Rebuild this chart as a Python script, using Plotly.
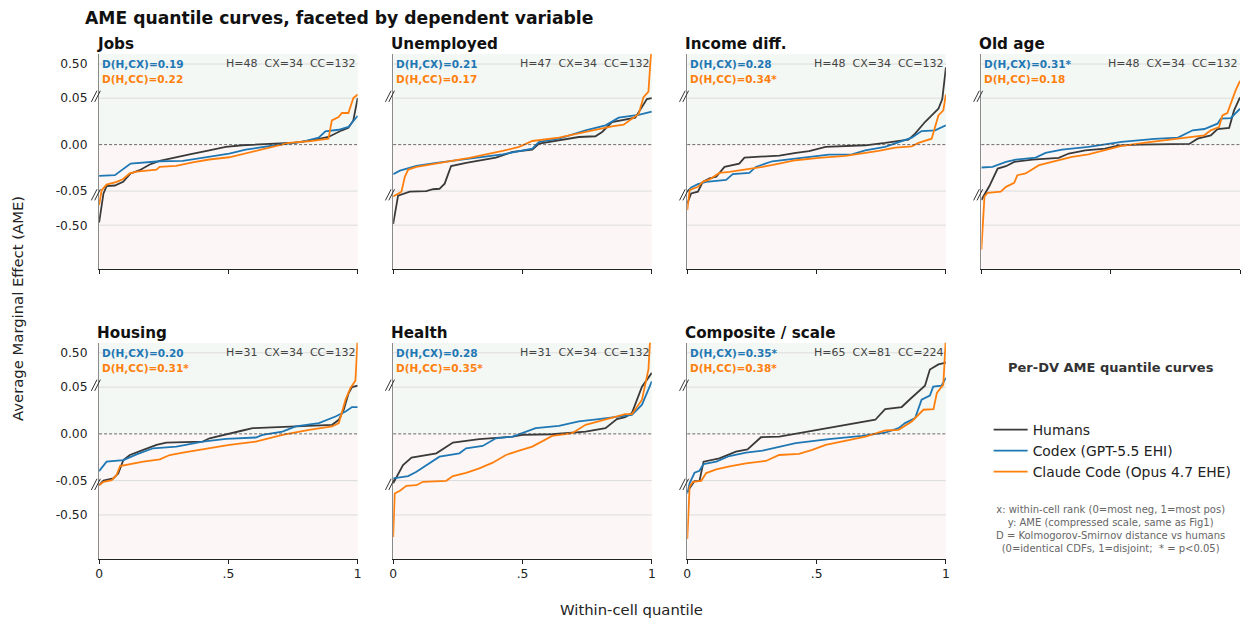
import math
import plotly.graph_objects as go

# ---------------- data (AME values) ----------------
PANELS = ["Jobs", "Unemployed", "Income diff.", "Old age", "Housing", "Health", "Composite / scale"]
D_CX = ["0.19", "0.21", "0.28", "0.31*", "0.20", "0.28", "0.35*"]
D_CC = ["0.22", "0.17", "0.34*", "0.18", "0.31*", "0.35*", "0.38*"]
N_H = [48, 47, 48, 48, 31, 31, 65]
N_CX = [34, 34, 34, 34, 34, 34, 81]
N_CC = [132, 132, 132, 132, 132, 132, 224]

SERIES = ["Humans", "Codex (GPT-5.5 EHI)", "Claude Code (Opus 4.7 EHE)"]
COLORS = ["#3a3a3a", "#1f77b4", "#ff7f0e"]

Y_TICKS = [-0.5, -0.05, 0.0, 0.05, 0.5]
Y_TICKTEXT = ["-0.50", "-0.05", "0.00", "0.05", "0.50"]
X_TICKS = [0, 0.5, 1]
X_TICKTEXT = ["0", ".5", "1"]

# Jobs
jobs_h_q = [0, 0.017, 0.029, 0.061, 0.093, 0.122, 0.157, 0.196, 0.234, 0.298, 0.350, 0.426, 0.490, 0.554, 0.657, 0.759, 0.836, 0.887, 0.939, 0.964, 0.983, 1.0]
jobs_h_v = [-0.42, -0.0585, -0.0446, -0.044, -0.040, -0.031, -0.0275, -0.0214, -0.0175, -0.0132, -0.0104, -0.0061, -0.0025, -0.0007, 0.0004, 0.0021, 0.0054, 0.0082, 0.0154, 0.0182, 0.026, 0.051]
jobs_cx_q = [0, 0.061, 0.122, 0.170, 0.234, 0.324, 0.401, 0.503, 0.567, 0.631, 0.708, 0.785, 0.849, 0.875, 0.926, 0.964, 1.0]
jobs_cx_v = [-0.0336, -0.0329, -0.0204, -0.0193, -0.0179, -0.0175, -0.0143, -0.0096, -0.0054, -0.0025, 0.0004, 0.0029, 0.0075, 0.0143, 0.016, 0.019, 0.031]
jobs_cc_q = [0, 0.010, 0.029, 0.068, 0.093, 0.119, 0.145, 0.222, 0.234, 0.298, 0.362, 0.426, 0.503, 0.580, 0.657, 0.734, 0.810, 0.887, 0.900, 0.926, 0.939, 0.964, 0.983, 1.0]
jobs_cc_v = [-0.128, -0.049, -0.043, -0.040, -0.037, -0.031, -0.029, -0.027, -0.024, -0.0229, -0.019, -0.016, -0.0136, -0.0082, -0.0036, 0.0018, 0.0036, 0.0064, 0.026, 0.0296, 0.034, 0.034, 0.050, 0.064]

# Unemployed
unemp_h_q = [0, 0.019, 0.064, 0.128, 0.154, 0.179, 0.199, 0.224, 0.282, 0.333, 0.397, 0.462, 0.538, 0.564, 0.641, 0.718, 0.782, 0.808, 0.846, 0.897, 0.936, 0.981, 1.0]
unemp_h_v = [-0.46, -0.068, -0.052, -0.050, -0.048, -0.0475, -0.042, -0.023, -0.0196, -0.0168, -0.0139, -0.0079, -0.0054, 0.001, 0.0046, 0.0082, 0.009, 0.0136, 0.0243, 0.027, 0.029, 0.049, 0.050]
unemp_cx_q = [0, 0.026, 0.090, 0.167, 0.295, 0.423, 0.538, 0.564, 0.641, 0.744, 0.821, 0.872, 0.949, 1.0]
unemp_cx_v = [-0.0318, -0.028, -0.023, -0.0196, -0.015, -0.0104, -0.0043, 0.0029, 0.0064, 0.0154, 0.0207, 0.029, 0.032, 0.0354]
unemp_cc_q = [0, 0.032, 0.045, 0.058, 0.090, 0.167, 0.295, 0.423, 0.487, 0.538, 0.641, 0.744, 0.846, 0.891, 0.949, 0.968, 0.987, 0.994, 1.0]
unemp_cc_v = [-0.072, -0.052, -0.0346, -0.0268, -0.024, -0.0204, -0.0143, -0.0068, -0.0025, 0.0039, 0.0075, 0.0136, 0.0196, 0.0214, 0.033, 0.0536, 0.078, 0.5, 1.5]

# Income diff.
income_h_q = [0, 0.015, 0.041, 0.060, 0.086, 0.112, 0.144, 0.176, 0.201, 0.221, 0.292, 0.356, 0.420, 0.471, 0.535, 0.612, 0.688, 0.765, 0.855, 0.881, 0.919, 0.945, 0.971, 0.986, 1.0]
income_h_v = [-0.115, -0.0585, -0.052, -0.040, -0.0364, -0.0346, -0.024, -0.0221, -0.0204, -0.0139, -0.0132, -0.0118, -0.0089, -0.0071, -0.0025, -0.0014, -0.0007, 0.0018, 0.0054, 0.0118, 0.0243, 0.0314, 0.0386, 0.049, 0.40]
income_cx_q = [0, 0.015, 0.041, 0.073, 0.150, 0.176, 0.240, 0.265, 0.329, 0.419, 0.547, 0.637, 0.688, 0.765, 0.842, 0.868, 0.906, 0.958, 1.0]
income_cx_v = [-0.052, -0.046, -0.0425, -0.040, -0.038, -0.0318, -0.0304, -0.024, -0.0179, -0.015, -0.0107, -0.0104, -0.0061, -0.0025, 0.0046, 0.0075, 0.0146, 0.0154, 0.0207]
income_cc_q = [0, 0.009, 0.041, 0.060, 0.086, 0.124, 0.163, 0.227, 0.291, 0.355, 0.419, 0.509, 0.612, 0.669, 0.740, 0.804, 0.868, 0.894, 0.945, 0.958, 0.971, 0.990, 1.0]
income_cc_v = [-0.18, -0.049, -0.0454, -0.040, -0.0375, -0.0304, -0.0293, -0.0268, -0.024, -0.0204, -0.0168, -0.0143, -0.0121, -0.0096, -0.0068, -0.0032, -0.0018, 0.0018, 0.0064, 0.0189, 0.0314, 0.0368, 0.064]

# Old age
old_h_q = [0, 0.031, 0.063, 0.095, 0.127, 0.197, 0.299, 0.338, 0.402, 0.478, 0.529, 0.606, 0.804, 0.836, 0.887, 0.913, 0.958, 0.977, 1.0]
old_h_v = [-0.091, -0.0446, -0.0257, -0.0232, -0.0186, -0.0161, -0.0143, -0.0096, -0.0061, -0.0043, -0.0011, 0.0, 0.0007, 0.0064, 0.010, 0.0168, 0.0179, 0.0368, 0.053]
old_cx_q = [0, 0.043, 0.095, 0.133, 0.210, 0.248, 0.312, 0.414, 0.542, 0.670, 0.760, 0.817, 0.862, 0.913, 0.926, 0.964, 1.0]
old_cx_v = [-0.0246, -0.0239, -0.0186, -0.0161, -0.0139, -0.0089, -0.0054, -0.0025, 0.0029, 0.0061, 0.0075, 0.0154, 0.0168, 0.0225, 0.0279, 0.0286, 0.0386]
old_cc_q = [0, 0.012, 0.024, 0.075, 0.095, 0.127, 0.139, 0.171, 0.223, 0.299, 0.350, 0.414, 0.478, 0.542, 0.657, 0.760, 0.862, 0.887, 0.919, 0.932, 0.951, 0.964, 0.983, 1.0]
old_cc_v = [-2.6, -0.072, -0.056, -0.052, -0.0454, -0.0411, -0.0329, -0.031, -0.0221, -0.0168, -0.0132, -0.0104, -0.0061, -0.0014, 0.0029, 0.0064, 0.010, 0.0154, 0.019, 0.0314, 0.034, 0.0439, 0.084, 0.16]

# Housing
housing_h_q = [0, 0.017, 0.055, 0.074, 0.094, 0.119, 0.171, 0.222, 0.260, 0.401, 0.427, 0.478, 0.555, 0.594, 0.683, 0.812, 0.901, 0.927, 0.946, 0.965, 0.978, 1.0]
housing_h_v = [-0.068, -0.050, -0.0477, -0.0423, -0.028, -0.0226, -0.0172, -0.0118, -0.0093, -0.0082, -0.0047, -0.0011, 0.0036, 0.0061, 0.0072, 0.0086, 0.0097, 0.015, 0.0258, 0.0437, 0.0503, 0.055]
housing_cx_q = [0, 0.029, 0.094, 0.145, 0.209, 0.299, 0.401, 0.491, 0.606, 0.632, 0.709, 0.760, 0.850, 0.914, 0.953, 0.978, 1.0]
housing_cx_v = [-0.0398, -0.0297, -0.028, -0.0219, -0.0154, -0.0136, -0.0082, -0.0054, -0.0039, -0.0011, 0.0025, 0.0079, 0.0115, 0.0186, 0.024, 0.0287, 0.0287]
housing_cc_q = [0, 0.017, 0.049, 0.068, 0.081, 0.119, 0.171, 0.235, 0.273, 0.324, 0.427, 0.504, 0.606, 0.709, 0.812, 0.901, 0.927, 0.940, 0.953, 0.972, 0.991, 0.997, 1.0]
housing_cc_v = [-0.068, -0.054, -0.0495, -0.0437, -0.0344, -0.0323, -0.0297, -0.0272, -0.0226, -0.0201, -0.0154, -0.0118, -0.0082, -0.0011, 0.0043, 0.0079, 0.0115, 0.024, 0.0366, 0.0491, 0.077, 0.5, 1.5]

# Health
health_h_q = [0, 0.038, 0.071, 0.167, 0.231, 0.333, 0.462, 0.500, 0.615, 0.744, 0.821, 0.865, 0.897, 0.923, 0.962, 1.0]
health_h_v = [-0.06, -0.0333, -0.0254, -0.0208, -0.0093, -0.0057, -0.0029, -0.0011, -0.0004, 0.0025, 0.0061, 0.0158, 0.0179, 0.0222, 0.0514, 0.13]
health_cx_q = [0, 0.058, 0.090, 0.128, 0.179, 0.256, 0.282, 0.346, 0.397, 0.462, 0.513, 0.551, 0.641, 0.718, 0.795, 0.897, 0.923, 0.962, 1.0]
health_cx_v = [-0.0477, -0.0452, -0.0405, -0.0333, -0.0244, -0.0208, -0.0154, -0.0129, -0.0047, -0.0029, 0.0025, 0.0061, 0.0086, 0.0133, 0.0158, 0.0194, 0.0204, 0.0312, 0.074]
health_cc_q = [0, 0.006, 0.026, 0.051, 0.090, 0.115, 0.205, 0.231, 0.282, 0.333, 0.385, 0.436, 0.487, 0.538, 0.615, 0.692, 0.744, 0.846, 0.897, 0.923, 0.962, 0.987, 0.994]
health_cc_v = [-2.2, -0.119, -0.099, -0.071, -0.068, -0.054, -0.0506, -0.0452, -0.0416, -0.0369, -0.0308, -0.0226, -0.0179, -0.0136, -0.0022, 0.0007, 0.0097, 0.0168, 0.0211, 0.0211, 0.0366, 0.163, 1.5]

# Composite / scale
comp_h_q = [0, 0.028, 0.047, 0.063, 0.124, 0.188, 0.233, 0.259, 0.285, 0.356, 0.433, 0.522, 0.574, 0.663, 0.727, 0.765, 0.829, 0.862, 0.894, 0.919, 0.938, 0.971, 1.0]
comp_h_v = [-0.106, -0.0516, -0.0516, -0.0297, -0.0262, -0.019, -0.0165, -0.010, -0.0036, -0.0029, 0.0007, 0.005, 0.0079, 0.0115, 0.0151, 0.0265, 0.0287, 0.0373, 0.0455, 0.055, 0.163, 0.23, 0.26]
comp_cx_q = [0, 0.009, 0.028, 0.047, 0.063, 0.112, 0.163, 0.227, 0.291, 0.355, 0.419, 0.547, 0.676, 0.765, 0.817, 0.842, 0.881, 0.906, 0.938, 0.951, 0.983, 1.0]
comp_cx_v = [-0.119, -0.06, -0.0416, -0.0394, -0.0323, -0.0297, -0.0237, -0.0201, -0.0179, -0.0136, -0.010, -0.0057, -0.0022, 0.0014, 0.0061, 0.0115, 0.0168, 0.0366, 0.0409, 0.0514, 0.055, 0.093]
comp_cc_q = [0, 0.009, 0.022, 0.054, 0.073, 0.112, 0.163, 0.227, 0.304, 0.355, 0.432, 0.483, 0.535, 0.612, 0.689, 0.766, 0.817, 0.868, 0.913, 0.952, 0.965, 0.990, 0.996, 1.0]
comp_cc_v = [-2.5, -0.076, -0.054, -0.0506, -0.0419, -0.038, -0.0348, -0.0315, -0.029, -0.0226, -0.0215, -0.0172, -0.0118, -0.0072, -0.0029, 0.0036, 0.0043, 0.0133, 0.0258, 0.0265, 0.0437, 0.059, 0.33, 1.5]

CURVES = [
    [(jobs_h_q, jobs_h_v), (jobs_cx_q, jobs_cx_v), (jobs_cc_q, jobs_cc_v)],
    [(unemp_h_q, unemp_h_v), (unemp_cx_q, unemp_cx_v), (unemp_cc_q, unemp_cc_v)],
    [(income_h_q, income_h_v), (income_cx_q, income_cx_v), (income_cc_q, income_cc_v)],
    [(old_h_q, old_h_v), (old_cx_q, old_cx_v), (old_cc_q, old_cc_v)],
    [(housing_h_q, housing_h_v), (housing_cx_q, housing_cx_v), (housing_cc_q, housing_cc_v)],
    [(health_h_q, health_h_v), (health_cx_q, health_cx_v), (health_cc_q, health_cc_v)],
    [(comp_h_q, comp_h_v), (comp_cx_q, comp_cx_v), (comp_cc_q, comp_cc_v)],
]

# ---------------- compressed y scale ----------------
LIN = 0.05      # linear within +-0.05
K = 0.0367      # compressed (log10) beyond


def compress(v):
    a = abs(v)
    if a <= LIN:
        return v
    return math.copysign(LIN + K * math.log10(a / LIN), v)


Y_RANGE = [-0.1335, 0.0975]

# ---------------- layout geometry ----------------
W, H = 1245, 618
COL_L = [95.7, 391.7, 687.7, 983.7]
PW = 260.3
ROWS = [(54.0, 268.7), (342.7, 558.7)]
FONT = "DejaVu Sans"

fig = go.Figure()
layout = dict(
    width=W, height=H,
    margin=dict(l=0, r=0, t=0, b=0),
    paper_bgcolor="white", plot_bgcolor="white",
    font=dict(family=FONT, color="#222"),
    showlegend=True,
)
shapes = []
annotations = []

for i, name in enumerate(PANELS):
    n = i + 1
    r, c = divmod(i, 4)
    xk = "xaxis" if n == 1 else f"xaxis{n}"
    yk = "yaxis" if n == 1 else f"yaxis{n}"
    xr = "x" if n == 1 else f"x{n}"
    yr = "y" if n == 1 else f"y{n}"
    top, bot = ROWS[r]
    layout[xk] = dict(
        domain=[COL_L[c] / W, (COL_L[c] + PW) / W], anchor=yr,
        range=[0, 1], tickvals=X_TICKS, ticktext=X_TICKTEXT,
        showticklabels=(r == 1), ticks="outside", ticklen=4, tickwidth=1,
        tickcolor="#222", showline=True, linecolor="#222", linewidth=1,
        showgrid=False, zeroline=False, tickfont=dict(size=12.3, color="#222"),
        fixedrange=True,
    )
    layout[yk] = dict(
        domain=[1 - bot / H, 1 - top / H], anchor=xr,
        range=Y_RANGE, tickvals=[compress(t) for t in Y_TICKS], ticktext=Y_TICKTEXT,
        showticklabels=(c == 0), ticks="", ticklabelstandoff=8,
        showline=True, linecolor="#8a8a8a", linewidth=1.2,
        showgrid=False, zeroline=False, tickfont=dict(size=12.3, color="#222"),
        fixedrange=True,
    )
    xd = f"{xr} domain"
    # background tints
    shapes.append(dict(type="rect", xref=xd, yref=yr, x0=0, x1=1, y0=0, y1=Y_RANGE[1],
                       fillcolor="#f4f8f4", line=dict(width=0), layer="below"))
    shapes.append(dict(type="rect", xref=xd, yref=yr, x0=0, x1=1, y0=Y_RANGE[0], y1=0,
                       fillcolor="#fcf7f6", line=dict(width=0), layer="below"))
    # gridlines
    for t in Y_TICKS:
        if t == 0:
            continue
        shapes.append(dict(type="line", xref=xd, yref=yr, x0=0, x1=1, y0=compress(t), y1=compress(t),
                           line=dict(color="#dcdcdc", width=1), layer="below"))
    # zero reference line
    shapes.append(dict(type="line", xref=xd, yref=yr, x0=0, x1=1, y0=0, y1=0,
                       line=dict(color="#444", width=0.8, dash="3px,2px"), layer="above"))
    # axis-break marks
    for (y0, y1) in [(0.046, 0.058), (-0.060, -0.048)]:
        for dx in (0.0, 0.013):
            shapes.append(dict(type="line", xref=xd, yref=yr, x0=-0.030 + dx, x1=-0.008 + dx,
                               y0=y0, y1=y1, line=dict(color="#333", width=1)))
    # curves
    for s, (q, v) in enumerate(CURVES[i]):
        fig.add_trace(go.Scatter(
            x=q, y=[compress(a) for a in v], xaxis=xr, yaxis=yr, mode="lines",
            name=SERIES[s], legendgroup=SERIES[s], showlegend=(i == 0),
            line=dict(color=COLORS[s], width=1.8), hoverinfo="skip",
        ))
    # panel title
    annotations.append(dict(text=f"<b>{name}</b>", xref=xd, yref=f"{yr} domain", x=0, y=1,
                            xanchor="left", yanchor="middle", yshift=10, xshift=-4, showarrow=False,
                            font=dict(size=15.2, color="#111")))
    annotations.append(dict(text=f"<b>D(H,CX)={D_CX[i]}</b>", xref=xd, yref=f"{yr} domain", x=0, y=1,
                            xanchor="left", yanchor="middle", xshift=1, yshift=-10, showarrow=False,
                            font=dict(size=10.5, color=COLORS[1])))
    annotations.append(dict(text=f"<b>D(H,CC)={D_CC[i]}</b>", xref=xd, yref=f"{yr} domain", x=0, y=1,
                            xanchor="left", yanchor="middle", xshift=1, yshift=-25, showarrow=False,
                            font=dict(size=10.5, color=COLORS[2])))
    annotations.append(dict(text=f"H={N_H[i]}  CX={N_CX[i]}  CC={N_CC[i]}", xref=xd, yref=f"{yr} domain",
                            x=1, y=1, xanchor="right", yanchor="middle", xshift=-1, yshift=-10,
                            showarrow=False, font=dict(size=11, color="#444")))

# figure-level text
annotations.append(dict(text="<b>AME quantile curves, faceted by dependent variable</b>", xref="paper", yref="paper",
                        x=80 / W, y=1 - 18 / H, xanchor="left", yanchor="middle", showarrow=False,
                        font=dict(size=17.2, color="#111")))
annotations.append(dict(text="Average Marginal Effect (AME)", xref="paper", yref="paper",
                        x=13 / W, y=1 - 308 / H, xanchor="center", yanchor="middle", textangle=-90,
                        showarrow=False, font=dict(size=14.8, color="#222")))
annotations.append(dict(text="Within-cell quantile", xref="paper", yref="paper",
                        x=632 / W, y=1 - 609 / H, xanchor="center", yanchor="middle",
                        showarrow=False, font=dict(size=14.8, color="#222")))
annotations.append(dict(text="<b>Per-DV AME quantile curves</b>", xref="paper", yref="paper",
                        x=1114 / W, y=1 - 367 / H, xanchor="center", yanchor="middle",
                        showarrow=False, font=dict(size=13, color="#333")))
annotations.append(dict(text="x: within-cell rank (0=most neg, 1=most pos)<br>"
                             "y: AME (compressed scale, same as Fig1)<br>"
                             "D = Kolmogorov-Smirnov distance vs humans<br>"
                             "(0=identical CDFs, 1=disjoint;  * = p<0.05)",
                        xref="paper", yref="paper", x=1114 / W, y=1 - 529 / H,
                        xanchor="center", yanchor="middle", align="center", showarrow=False,
                        font=dict(size=10, color="#666")))

layout["shapes"] = shapes
layout["annotations"] = annotations
layout["legend"] = dict(x=991 / W, y=1 - 414 / H, xanchor="left", yanchor="top",
                        bgcolor="rgba(0,0,0,0)", font=dict(size=13.9, color="#222"),
                        itemwidth=34, tracegroupgap=0)
fig.update_layout(**layout)

# remove the default page margin so the figure sits at the window origin
POST = "document.body.style.margin='0';document.body.style.overflow='hidden';"
fig.write_html("out.html", post_script=POST, config={"displayModeBar": False})
